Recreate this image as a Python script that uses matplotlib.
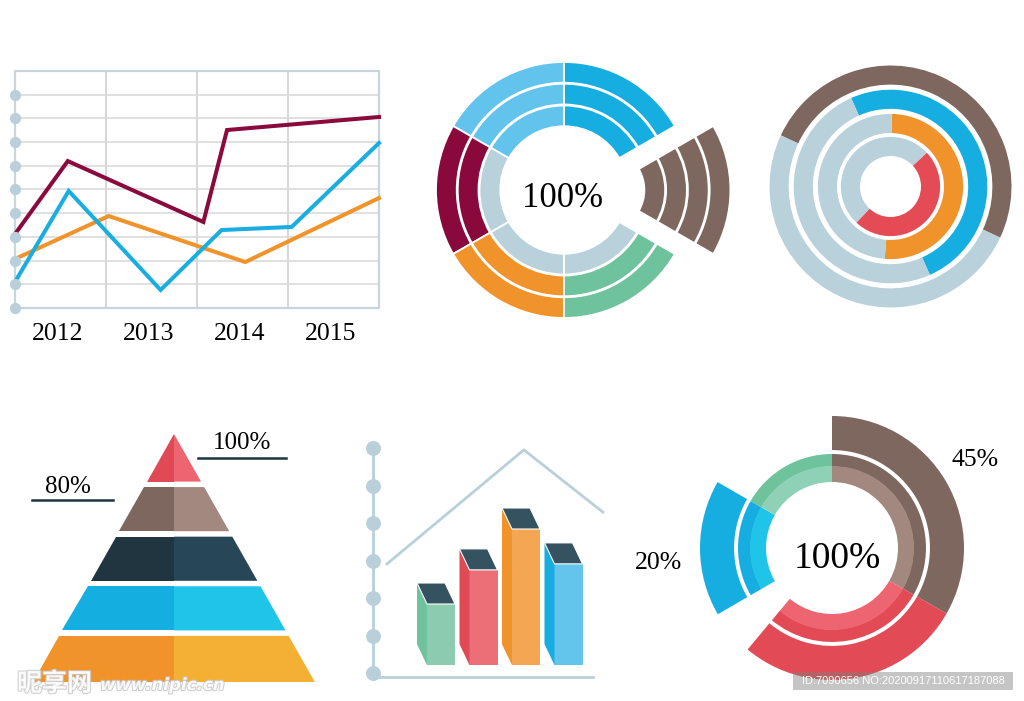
import matplotlib.pyplot as plt
import matplotlib.patheffects as pe
from matplotlib.patches import Polygon, Rectangle

W, H = 1024, 701
GRAY = "#b9d1db"

# line chart (top left)
years = ["2012", "2013", "2014", "2015"]
maroon_x = [0, 0.58, 2.07, 2.33, 4.0]
maroon_y = [3.12, 6.20, 3.63, 7.51, 8.06]
blue_x = [0, 0.59, 1.60, 2.27, 3.04, 4.0]
blue_y = [1.10, 4.94, 0.76, 3.29, 3.42, 6.96]
orange_x = [0, 1.03, 2.53, 4.0]
orange_y = [2.07, 3.88, 1.94, 4.64]

# segmented wheel (top middle), counter-clockwise from -30 deg
wheel_parts = [1, 1, 1, 1, 1, 1]
wheel_bands = [4, 3, 3, 2, 2, 2]
wheel_colors = ["#7d675f", "#16ade0", "#62c4ec", "#89093d", "#f0932b", "#6ec39d"]
wheel_explode = [0.3, 0, 0, 0, 0, 0]

# concentric rings (top right), outer ring first
ring_values = [50, 50, 51, 49]
ring_starts = [155, 114, 89, 43]
ring_colors = ["#7d675f", "#16ade0", "#f0932b", "#e54b55"]

# pyramid, bottom layer first
pyramid_left = ["#f0932a", "#15aee0", "#213541", "#7d675f", "#e04a55"]
pyramid_right = ["#f4b034", "#1fc5e8", "#274756", "#a38880", "#ec6570"]
pyramid_labels = ["100%", "80%"]

# 3d bars (bottom middle)
bar_values = [1.84, 2.75, 3.84, 2.91]
bar_front = ["#8ccbb0", "#ec6f78", "#f4a653", "#63c4ec"]
bar_side = ["#6ec39d", "#e04a55", "#f0932a", "#16ade0"]
roof_x = [-1.27, 1.95, 3.81]
roof_y = [2.91, 5.95, 4.29]

# donut (bottom right), clockwise from the top
donut_values = [33.3, 27.8, 5.6, 16.7, 16.7]
donut_outer = ["#7d675f", "#e24b55", "none", "#16ade0", "none"]
donut_mid = ["#7d675f", "#e24b55", "none", "#16ade0", "#6ec39d"]
donut_inner = ["#a38880", "#ec6570", "none", "#1fc5e8", "#8fd1b6"]
donut_labels = ["100%", "45%", "20%"]

plt.rcParams['font.family'] = ['Liberation Serif', 'DejaVu Serif']


def add_axes_px(fig, origin, scale, xlim, ylim):
    # place an axes so that data (0, 0) sits at pixel `origin`
    ox, oy = origin
    sx, sy = scale
    x0 = ox + xlim[0] * sx
    x1 = ox + xlim[1] * sx
    y_top = oy - ylim[1] * sy
    y_bot = oy - ylim[0] * sy
    ax = fig.add_axes([x0 / W, 1 - y_bot / H, (x1 - x0) / W, (y_bot - y_top) / H])
    ax.set_xlim(*xlim)
    ax.set_ylim(*ylim)
    ax.axis('off')
    return ax


def hide_empty(wedges, colors):
    for w, c in zip(wedges, colors):
        if c == "none":
            w.set_visible(False)


fig = plt.figure(figsize=(W / 100, H / 100), dpi=100)
fig.patch.set_facecolor("white")

# ---- line chart
ax = add_axes_px(fig, (15, 308), (91, 23.7), (0, 4), (0, 10))
for x in range(1, 4):
    ax.plot([x, x], [0, 10], color="#d0d0d0", lw=1.2)
for y in range(1, 10):
    ax.plot([0, 4], [y, y], color="#dadada", lw=1.2)
ax.plot([0, 4, 4, 0, 0], [0, 0, 10, 10, 0], color="#c5d6de", lw=1.6, clip_on=False)
ax.scatter([0] * 10, range(10), s=50, color="#b9d0da", zorder=5, clip_on=False)
ax.plot(orange_x, orange_y, color="#f0932b", lw=2.9, clip_on=False, solid_joinstyle='miter')
ax.plot(blue_x, blue_y, color="#1aaee0", lw=2.9, clip_on=False, solid_joinstyle='miter')
ax.plot(maroon_x, maroon_y, color="#8b0a3e", lw=2.9, clip_on=False, solid_joinstyle='miter')
for i, yr in enumerate(years):
    ax.text(i + 0.47, -1.35, yr, ha='center', va='baseline', fontsize=18.5)

# ---- segmented wheel
ax = add_axes_px(fig, (564, 190), (128, 128), (-1.35, 1.35), (-1.35, 1.35))
band_radius = [1.0, 0.83, 0.66, 0.49]
for b, r in enumerate(band_radius):
    cols = []
    for n, c in zip(wheel_bands, wheel_colors):
        if b < n:
            cols.append(c)
        elif b < 3:
            cols.append(GRAY)
        else:
            cols.append("none")
    wedges, _ = ax.pie(wheel_parts, radius=r, colors=cols, startangle=-30,
                       explode=wheel_explode,
                       wedgeprops=dict(width=0.162, edgecolor='white', linewidth=1.3))
    hide_empty(wedges, cols)
ax.set_xlim(-1.35, 1.35)
ax.set_ylim(-1.35, 1.35)
ax.text(-0.01, -0.133, "100%", ha='center', va='baseline', fontsize=25)

# ---- concentric rings
ax = add_axes_px(fig, (890.5, 186.5), (121, 121), (-1.1, 1.1), (-1.1, 1.1))
ring_radius = [1.0, 0.80, 0.60, 0.41]
for r, v, s, c in zip(ring_radius, ring_values, ring_starts, ring_colors):
    ax.pie([v, 100 - v], radius=r, colors=[c, GRAY], startangle=s,
           counterclock=False, wedgeprops=dict(width=0.158))
ax.set_xlim(-1.1, 1.1)
ax.set_ylim(-1.1, 1.1)

# ---- pyramid
ax = add_axes_px(fig, (174, 682), (49.6, 49.6), (-3.1, 3.2), (-0.2, 5.2))
half_base = 2.84
levels = len(pyramid_left)
for k, (cl, cr) in enumerate(zip(pyramid_left, pyramid_right)):
    y0 = k + 0.04 if k else 0
    y1 = k + 0.93 if k < levels - 1 else levels
    w0 = half_base * (1 - y0 / levels)
    w1 = half_base * (1 - y1 / levels)
    ax.add_patch(Polygon([(-w0, y0), (0, y0), (0, y1), (-w1, y1)], facecolor=cl, edgecolor='none'))
    ax.add_patch(Polygon([(0, y0), (w0, y0), (w1, y1), (0, y1)], facecolor=cr, edgecolor='none'))
ax.text(1.38, 4.70, pyramid_labels[0], ha='center', va='baseline', fontsize=18)
ax.plot([0.48, 2.26], [4.52, 4.52], color="#1d3541", lw=1.8)
ax.text(-2.13, 3.81, pyramid_labels[1], ha='center', va='baseline', fontsize=18)
ax.plot([-2.86, -1.23], [3.67, 3.67], color="#1d3541", lw=1.8)

# ---- 3d bars
ax = add_axes_px(fig, (441, 673), (42.5, 37.5), (-2, 4), (-0.5, 6.5))
pale = "#b9d0da"
axis_x = -1.6
ax.plot([axis_x, axis_x], [-0.1, 6], color=pale, lw=2)
ax.plot([axis_x, 3.58], [-0.1, -0.1], color=pale, lw=2)
ax.scatter([axis_x] * 7, range(7), s=95, color=pale, zorder=3)
ax.plot(roof_x, roof_y, color=pale, lw=2)
base, bw, dx, dy = 0.21, 0.66, -0.235, 0.56
for i, (v, cf, cs) in enumerate(zip(bar_values, bar_front, bar_side)):
    x0, x1 = i - bw / 2, i + bw / 2
    ax.bar(i, v - base, bottom=base, width=bw, color=cf, zorder=2)
    ax.add_patch(Polygon([(x0, base), (x0, v), (x0 + dx, v + dy), (x0 + dx, base + dy)],
                         facecolor=cs, edgecolor='none', zorder=2))
    ax.add_patch(Polygon([(x0, v), (x1, v), (x1 + dx, v + dy), (x0 + dx, v + dy)],
                         facecolor="#34525f", edgecolor='white', lw=0.8, zorder=3))

# ---- donut
ax = add_axes_px(fig, (832, 548), (132, 132), (-1.1, 1.1), (-1.1, 1.1))
for r, w, cols in [(1.0, 0.258, donut_outer), (0.712, 0.095, donut_mid), (0.621, 0.121, donut_inner)]:
    wedges, _ = ax.pie(donut_values, radius=r, colors=cols, startangle=90,
                       counterclock=False, wedgeprops=dict(width=w))
    hide_empty(wedges, cols)
ax.set_xlim(-1.1, 1.1)
ax.set_ylim(-1.1, 1.1)
ax.text(0.038, -0.152, donut_labels[0], ha='center', va='baseline', fontsize=27)
ax.text(1.083, 0.62, donut_labels[1], ha='center', va='baseline', fontsize=18.5)
ax.text(-1.318, -0.16, donut_labels[2], ha='center', va='baseline', fontsize=18.5)

# ---- watermarks
fig.add_artist(Rectangle((793 / W, 1 - 690 / H), 220 / W, 18 / H, transform=fig.transFigure,
                         facecolor="#7f7f7f", alpha=0.45, edgecolor='none'))
fig.text(903 / W, 1 - 681 / H, "ID:7090656 NO:20200917110617187088", color='white',
         fontsize=8, ha='center', va='center', family=['Liberation Sans', 'DejaVu Sans'])
shadow = [pe.withStroke(linewidth=1.5, foreground="#c8c8c8")]
fig.text(17 / W, 1 - 684 / H, "昵享网", family=['Noto Sans CJK SC', 'DejaVu Sans'], fontsize=18,
         fontweight='bold', color='white', va='center', alpha=0.85, path_effects=shadow)
fig.text(100 / W, 1 - 685 / H, "www.nipic.cn", family=['DejaVu Sans'], fontsize=12,
         fontweight='bold', style='italic', color='white', va='center', alpha=0.85, path_effects=shadow)

fig.savefig("out.png", dpi=100)
